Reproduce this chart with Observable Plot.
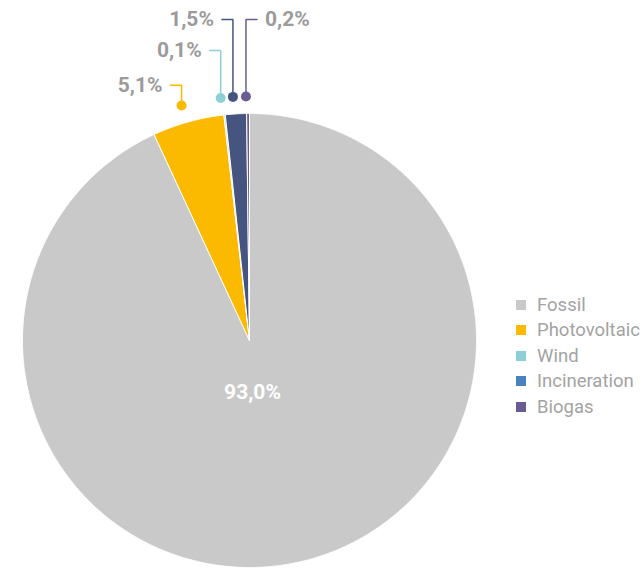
<!DOCTYPE html>
<html><head><meta charset="utf-8">
<script src="https://cdn.jsdelivr.net/npm/d3@7"></script>
<script src="https://cdn.jsdelivr.net/npm/@observablehq/plot@0.6"></script>
<style>
body{margin:0;background:#fff;font-family:Roboto,sans-serif;}
#wrap{position:relative;width:643px;height:569px;overflow:hidden;}
#legend{position:absolute;left:516px;top:292px;}
.item{display:flex;align-items:center;height:25.5px;font-size:18.5px;color:#a3a3a3;white-space:nowrap;}
.sw{width:10px;height:10px;margin-right:11px;flex:none;}
</style></head><body>
<div id="wrap"><div id="chart"></div><div id="legend"></div></div>
<script>
const categories = ["Fossil", "Photovoltaic", "Wind", "Incineration", "Biogas"];
const shares = [93.0, 5.1, 0.1, 1.5, 0.2];
const shareLabels = ["93,0%", "5,1%", "0,1%", "1,5%", "0,2%"];
const sliceColors = ["#c9c9c9", "#fbb900", "#8dcfd5", "#46557f", "#6b5b93"];
const legendColors = ["#c9c9c9", "#fbb900", "#8dcfd5", "#4a81bf", "#6b5b93"];
// leader layout for outside labels: elbow level (pie radii above centre) and side
const leaderLevel = [null, 1.125, 1.278, 1.414, 1.414];
const leaderSide = [0, -1, -1, -1, 1];

const W = 643, H = 569, R = 227, CX = 249, CY = 340;
const px = R; // pixels per unit radius

const arcs = d3.pie().sort(null).value(d => d)(shares);
const rows = arcs.map((a, i) => ({cat: categories[i], label: shareLabels[i], start: a.startAngle, end: a.endAngle, mid: (a.startAngle + a.endAngle) / 2, i}));

// slice outlines as closed polygons
const poly = [];
for (const r of rows) {
  poly.push({cat: r.cat, x: 0, y: 0});
  const n = Math.max(2, Math.ceil((r.end - r.start) / (Math.PI / 720)));
  for (let k = 0; k <= n; k++) {
    const a = r.start + (r.end - r.start) * k / n;
    poly.push({cat: r.cat, x: Math.sin(a), y: Math.cos(a)});
  }
  poly.push({cat: r.cat, x: 0, y: 0});
}

const dotR = 1.075;
const outside = rows.filter(r => leaderLevel[r.i] != null).map(r => {
  const dx = Math.sin(r.mid) * dotR, dy = Math.cos(r.mid) * dotR;
  const lvl = leaderLevel[r.i], side = leaderSide[r.i];
  return {...r, dx, dy, lvl, side, ex: dx + side * 11 / px, tx: dx + side * 19 / px};
});
const leaders = outside.flatMap(o => [
  {cat: o.cat, x: o.dx, y: o.dy},
  {cat: o.cat, x: o.dx, y: o.lvl},
  {cat: o.cat, x: o.ex, y: o.lvl}
]);

const inside = [rows[0]];
const shift = -2;

const chart = Plot.plot({
  width: W, height: H,
  margin: 0,
  x: {domain: [-CX / px, (W - CX) / px], axis: null},
  y: {domain: [(CY - H) / px, CY / px], axis: null},
  color: {domain: categories, range: sliceColors},
  style: {background: "transparent"},
  marks: [
    Plot.line(poly, {x: "x", y: "y", z: "cat", fill: "cat", stroke: "white", strokeWidth: 1, strokeLinejoin: "round", curve: "linear"}),
    Plot.line(leaders, {x: "x", y: "y", z: "cat", dx: shift, stroke: "cat", strokeWidth: 1.5, strokeLinejoin: "miter", curve: "linear"}),
    Plot.dot(outside, {x: "dx", y: "dy", dx: shift, r: 5, fill: "cat", stroke: null}),
    Plot.text(outside.filter(o => o.side < 0), {x: "tx", y: "lvl", dx: shift, text: "label", textAnchor: "end", fontFamily: "Roboto", fontWeight: "bold", fontSize: 21, fill: "#9b9b9b"}),
    Plot.text(outside.filter(o => o.side > 0), {x: "tx", y: "lvl", dx: shift, text: "label", textAnchor: "start", fontFamily: "Roboto", fontWeight: "bold", fontSize: 21, fill: "#9b9b9b"}),
    Plot.text(inside, {x: () => 0, y: () => -0.227, dx: 3, text: "label", fontFamily: "Roboto", fontWeight: "bold", fontSize: 21, fill: "white"})
  ]
});
document.getElementById("chart").appendChild(chart);

const legend = d3.select("#legend");
categories.forEach((c, i) => {
  const it = legend.append("div").attr("class", "item");
  it.append("div").attr("class", "sw").style("background", legendColors[i]);
  it.append("span").text(c);
});
</script>
</body></html>
